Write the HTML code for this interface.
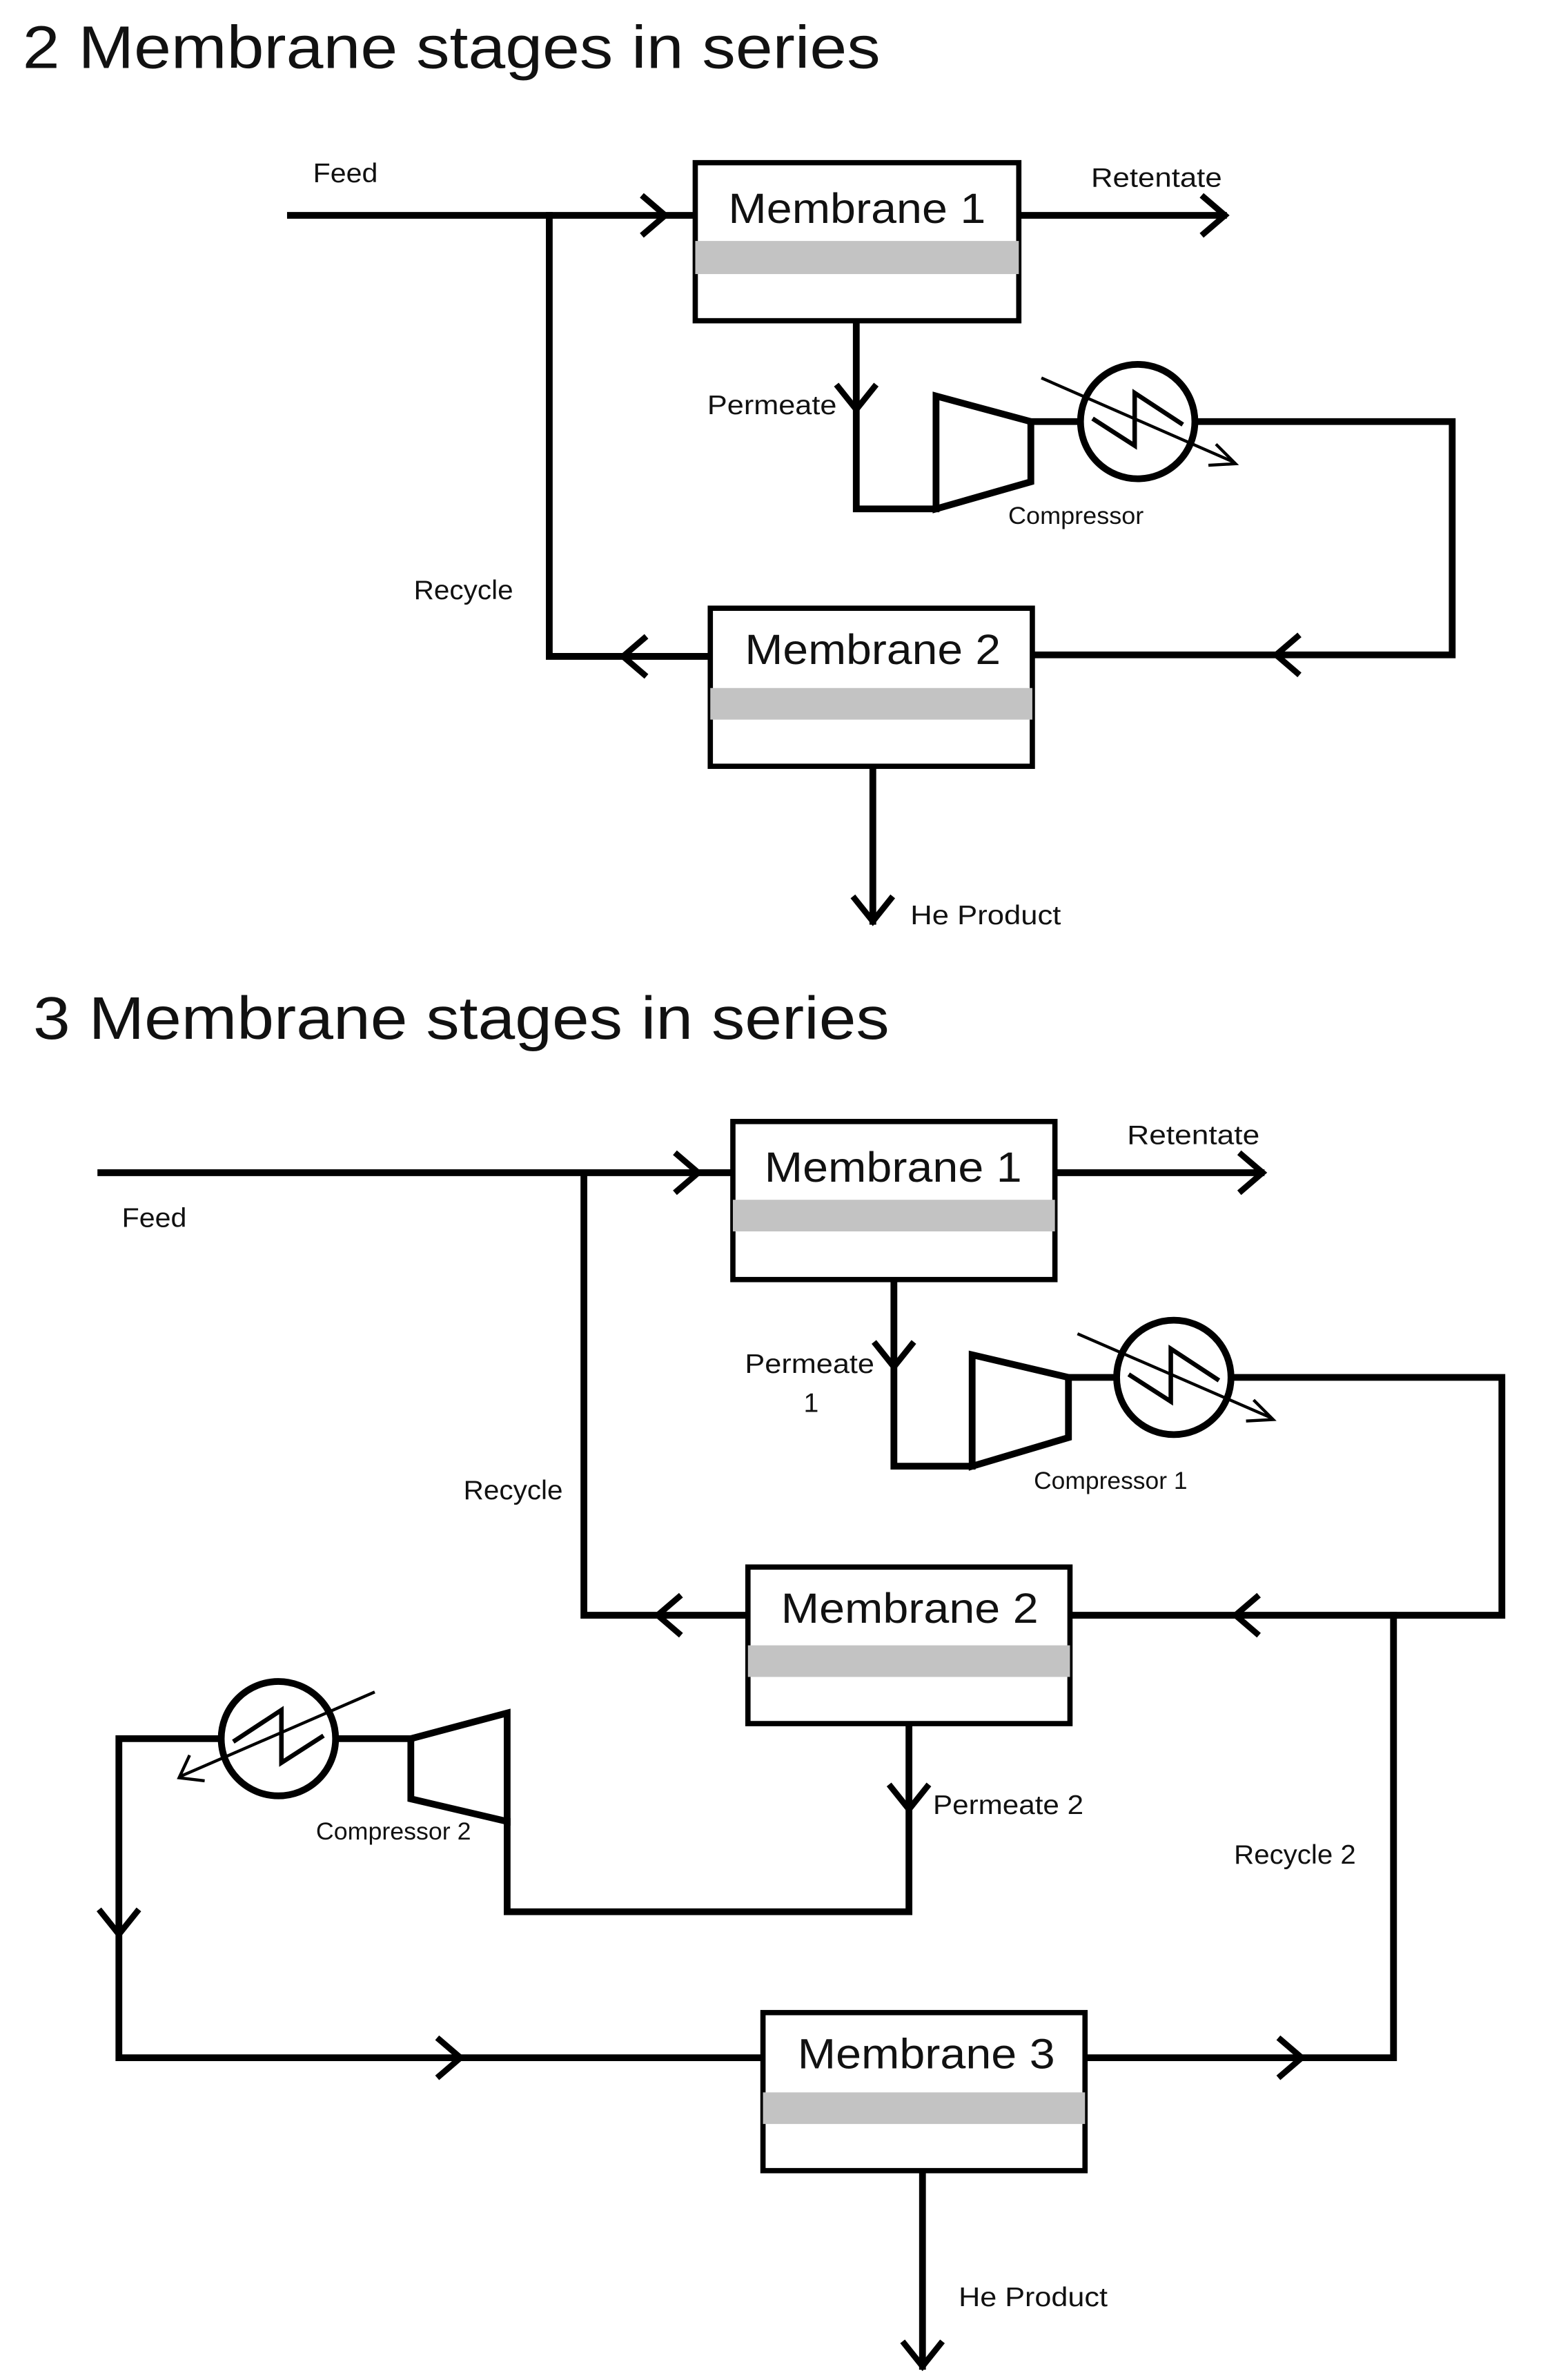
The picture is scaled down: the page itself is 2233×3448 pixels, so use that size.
<!DOCTYPE html>
<html><head><meta charset="utf-8"><style>
html,body{margin:0;padding:0;background:#fff}
svg{display:block}
text{font-family:"Liberation Sans",sans-serif;fill:#111}
</style></head><body>
<svg width="2233" height="3448" viewBox="0 0 1024 1581" xmlns="http://www.w3.org/2000/svg">
<defs>
<g id="hx">
<circle cx="0" cy="0" r="38" fill="#fff" stroke="#000" stroke-width="4.5"/>
<path d="M-30,-2 L-2,16 L-2,-19 L30,2" fill="none" stroke="#000" stroke-width="3"/>
</g>
</defs>
<g fill="none" stroke="#000" stroke-width="4.5" stroke-linecap="square">
<path d="M193,143 H462"/>
<path d="M428,131 L442,143 L428,155" stroke-width="4"/>
<path d="M677,143 H813"/>
<path d="M800,131 L814,143 L800,155" stroke-width="4"/>
<path d="M365,143 V436 H472"/>
<path d="M428,424 L414,436 L428,448" stroke-width="4"/>
<path d="M569,213 V338 H622"/>
<path d="M557,257 L569,272 L581,257" stroke-width="4"/>
<path d="M622,263 L685,280 L685,320 L622,338 Z" fill="#fff"/>
<path d="M685,280 H718"/>
<path d="M794,280 H965 V435 H686"/>
<path d="M862,423 L848,435 L862,447" stroke-width="4"/>
<path d="M580,509 V612"/>
<path d="M568,597 L580,612 L592,597" stroke-width="4"/>
<path d="M67,779 H487"/>
<path d="M450,767 L464,779 L450,791" stroke-width="4"/>
<path d="M701,779 H838"/>
<path d="M825,767 L839,779 L825,791" stroke-width="4"/>
<path d="M388,779 V1073 H497"/>
<path d="M451,1061 L437,1073 L451,1085" stroke-width="4"/>
<path d="M594,850 V974 H646"/>
<path d="M582,893 L594,908 L606,893" stroke-width="4"/>
<path d="M646,900 L710,915 L710,955 L646,974 Z" fill="#fff"/>
<path d="M710,915 H742"/>
<path d="M818,915 H998 V1073 H712"/>
<path d="M835,1061 L821,1073 L835,1085" stroke-width="4"/>
<path d="M926,1073 V1367 H722"/>
<path d="M851,1355 L865,1367 L851,1379" stroke-width="4"/>
<path d="M604,1145 V1270 H337 V1210"/>
<path d="M592,1187 L604,1202 L616,1187" stroke-width="4"/>
<path d="M337,1138 L273,1155 L273,1195 L337,1210 Z" fill="#fff"/>
<path d="M273,1155 H223"/>
<path d="M147,1155 H79 V1367 H507"/>
<path d="M67,1270 L79,1285 L91,1270" stroke-width="4"/>
<path d="M292,1355 L306,1367 L292,1379" stroke-width="4"/>
<path d="M613,1442 V1572"/>
<path d="M601,1557 L613,1572 L625,1557" stroke-width="4"/>
</g>
<use href="#hx" x="756" y="280"/>
<use href="#hx" x="780" y="915"/>
<g transform="translate(185,1155) scale(-1,1)"><use href="#hx"/></g>
<g fill="none" stroke="#000" stroke-width="2">
<path d="M692,251 L820,307"/><path d="M808,295 L821,308 L803,309"/>
<path d="M716,886 L845,942"/><path d="M833,930 L846,943 L828,944"/>
<path d="M249,1124 L120,1180"/><path d="M126,1166 L119,1181 L136,1183"/>
</g>
<g stroke="#000" stroke-width="3.5">
<rect x="462" y="108" width="215" height="105" fill="#fff"/>
<rect x="472" y="404" width="214" height="105" fill="#fff"/>
<rect x="487" y="745" width="214" height="105" fill="#fff"/>
<rect x="497" y="1041" width="214" height="104" fill="#fff"/>
<rect x="507" y="1337" width="214" height="105" fill="#fff"/>
</g>
<g fill="#c3c3c3">
<rect x="462" y="160" width="215" height="22"/>
<rect x="472" y="457" width="214" height="21"/>
<rect x="487" y="797" width="214" height="21"/>
<rect x="497" y="1093" width="214" height="21"/>
<rect x="507" y="1390" width="214" height="21"/>
</g>
<g font-size="28" lengthAdjust="spacingAndGlyphs">
<text x="484" y="148" textLength="171" lengthAdjust="spacingAndGlyphs">Membrane 1</text>
<text x="495" y="441" textLength="170" lengthAdjust="spacingAndGlyphs">Membrane 2</text>
<text x="508" y="785" textLength="171" lengthAdjust="spacingAndGlyphs">Membrane 1</text>
<text x="519" y="1078" textLength="171" lengthAdjust="spacingAndGlyphs">Membrane 2</text>
<text x="530" y="1374" textLength="171" lengthAdjust="spacingAndGlyphs">Membrane 3</text>
</g>
<text x="15" y="45" font-size="40" textLength="570" lengthAdjust="spacingAndGlyphs">2 Membrane stages in series</text>
<text x="22" y="690" font-size="40" textLength="569" lengthAdjust="spacingAndGlyphs">3 Membrane stages in series</text>
<g font-size="18">
<text x="208" y="121" textLength="43" lengthAdjust="spacingAndGlyphs">Feed</text>
<text x="725" y="124" textLength="87" lengthAdjust="spacingAndGlyphs">Retentate</text>
<text x="470" y="275" textLength="86" lengthAdjust="spacingAndGlyphs">Permeate</text>
<text x="670" y="348" font-size="16" textLength="90" lengthAdjust="spacingAndGlyphs">Compressor</text>
<text x="275" y="398" textLength="66" lengthAdjust="spacingAndGlyphs">Recycle</text>
<text x="605" y="614" textLength="100" lengthAdjust="spacingAndGlyphs">He Product</text>
<text x="81" y="815" textLength="43" lengthAdjust="spacingAndGlyphs">Feed</text>
<text x="749" y="760" textLength="88" lengthAdjust="spacingAndGlyphs">Retentate</text>
<text x="495" y="912" textLength="86" lengthAdjust="spacingAndGlyphs">Permeate</text>
<text x="534" y="938">1</text>
<text x="687" y="989" font-size="16" textLength="102" lengthAdjust="spacingAndGlyphs">Compressor 1</text>
<text x="308" y="996" textLength="66" lengthAdjust="spacingAndGlyphs">Recycle</text>
<text x="620" y="1205" textLength="100" lengthAdjust="spacingAndGlyphs">Permeate 2</text>
<text x="210" y="1222" font-size="16" textLength="103" lengthAdjust="spacingAndGlyphs">Compressor 2</text>
<text x="820" y="1238" textLength="81" lengthAdjust="spacingAndGlyphs">Recycle 2</text>
<text x="637" y="1532" textLength="99" lengthAdjust="spacingAndGlyphs">He Product</text>
</g>
</svg>
</body></html>
